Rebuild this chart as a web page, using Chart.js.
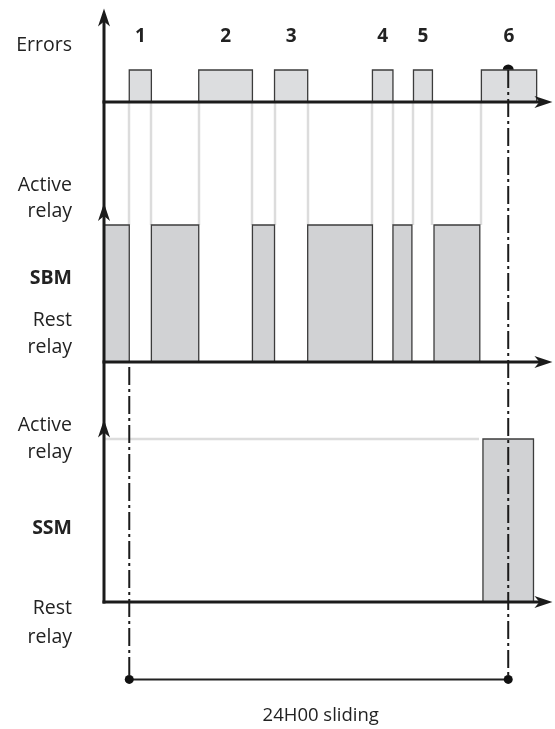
<!DOCTYPE html>
<html lang="en">
<head>
<meta charset="UTF-8">
<title>SBM / SSM relay timing</title>
<script src="https://cdn.jsdelivr.net/npm/chart.js"></script>
<style>
  html, body { margin: 0; padding: 0; background: #fff; }
  .wrap { position: relative; width: 555px; height: 729px; }
</style>
</head>
<body>
<div class="wrap"><canvas id="timing" width="555" height="729"></canvas></div>
<script>
// times in hours from the origin of the time axis
const errorLabels = ['1', '2', '3', '4', '5', '6'];
const errorStarts = [1.6, 6.0, 10.8, 17.0, 19.6, 23.9];
const errorEnds   = [3.0, 9.4, 12.9, 18.3, 20.8, 27.4];
const sbmStarts = [0, 3.0, 9.4, 12.9, 18.3, 20.9];
const sbmEnds   = [1.6, 6.0, 10.8, 17.0, 19.5, 23.8];
const ssmStarts = [24.0];
const ssmEnds   = [27.2];
const ssmThresholdEnd = 23.75;
const windowStart = 1.6;
const windowEnd = 25.6;
const windowLabel = '24H00 sliding';
const axisEnd = 28.4;

// layout (pixels)
const W = 555, H = 729;
const X0 = 104, PX_PER_HOUR = 15.79;
const lanes = {
    yE: { base: 102, high: 70, arrow: 2.92 },
    yB: { base: 362, high: 225, arrow: 1.16 },
    yS: { base: 602, high: 439, arrow: 1.12 }
};
const BRACKET_LEVEL = -0.475; // in SSM lane units

const AXIS = '#1b1b1b';
const EDGE = '#3c3c3c';
const GUIDE = '#dcdcdc';
const FONT = '"Open Sans", sans-serif';

function laneScale(l) {
    const r = l.base - l.high;
    return { type: 'linear', display: false, min: (l.base - H) / r, max: l.base / r };
}

function pulses(starts, ends) {
    const pts = [{ x: 0, y: 0 }];
    starts.forEach((s, i) => {
        pts.push({ x: s, y: 0 }, { x: s, y: 1 }, { x: ends[i], y: 1 }, { x: ends[i], y: 0 });
    });
    return pts;
}

function arrowHead(ctx, x, y, dir) {
    // dir: 'up' or 'right'
    const len = 18, half = 6, notch = 5;
    ctx.beginPath();
    if (dir === 'up') {
        ctx.moveTo(x, y);
        ctx.lineTo(x + half, y + len);
        ctx.lineTo(x, y + len - notch);
        ctx.lineTo(x - half, y + len);
    } else {
        ctx.moveTo(x, y);
        ctx.lineTo(x - len, y - half);
        ctx.lineTo(x - len + notch, y);
        ctx.lineTo(x - len, y + half);
    }
    ctx.closePath();
    ctx.fill();
}

const diagram = {
    id: 'diagram',
    beforeDatasetsDraw(chart) {
        const { ctx, scales: { x, yE, yB } } = chart;
        ctx.save();
        ctx.strokeStyle = GUIDE;
        ctx.lineWidth = 2.5;
        const edges = [];
        errorStarts.forEach((s, i) => {
            edges.push(s);
            if (errorEnds[i] <= sbmEnds[sbmEnds.length - 1]) edges.push(errorEnds[i]);
        });
        edges.forEach(t => {
            const px = Math.round(x.getPixelForValue(t));
            ctx.beginPath();
            ctx.moveTo(px, yE.getPixelForValue(0));
            ctx.lineTo(px, yB.getPixelForValue(1));
            ctx.stroke();
        });
        ctx.restore();
    },
    afterDatasetsDraw(chart) {
        const { ctx, scales } = chart;
        const x = scales.x;
        const x0 = x.getPixelForValue(0);
        const xEnd = x.getPixelForValue(axisEnd);
        ctx.save();
        ctx.strokeStyle = AXIS;
        ctx.fillStyle = AXIS;
        ctx.lineWidth = 3;
        // vertical axis
        ctx.beginPath();
        ctx.moveTo(x0, scales.yE.getPixelForValue(lanes.yE.arrow) + 6);
        ctx.lineTo(x0, scales.yS.getPixelForValue(0) + 1.5);
        ctx.stroke();
        // horizontal axes + arrows
        Object.keys(lanes).forEach(id => {
            const s = scales[id];
            const py = s.getPixelForValue(0);
            ctx.beginPath();
            ctx.moveTo(x0 - 1.5, py);
            ctx.lineTo(xEnd - 8, py);
            ctx.stroke();
            arrowHead(ctx, xEnd, py, 'right');
            arrowHead(ctx, x0, s.getPixelForValue(lanes[id].arrow), 'up');
        });
        // sliding window dash-dot lines
        ctx.lineWidth = 2;
        ctx.setLineDash([18, 4, 3, 4]);
        const yBr = scales.yS.getPixelForValue(BRACKET_LEVEL);
        const xl = x.getPixelForValue(windowStart);
        const xr = x.getPixelForValue(windowEnd);
        ctx.beginPath();
        ctx.moveTo(xl, scales.yB.getPixelForValue(0) + 5);
        ctx.lineTo(xl, yBr);
        ctx.stroke();
        ctx.beginPath();
        ctx.moveTo(xr, scales.yE.getPixelForValue(1));
        ctx.lineTo(xr, yBr);
        ctx.stroke();
        ctx.setLineDash([]);
        ctx.restore();
    },
    afterDraw(chart) {
        const { ctx, scales: { x } } = chart;
        ctx.save();
        ctx.fillStyle = '#222';
        ctx.textBaseline = 'middle';
        // pulse numbers
        ctx.textAlign = 'center';
        ctx.font = 'bold 19px ' + FONT;
        errorLabels.forEach((lab, i) => {
            ctx.fillText(lab, x.getPixelForValue((errorStarts[i] + errorEnds[i]) / 2), 37);
        });
        // lane labels
        ctx.textAlign = 'right';
        const labels = [
            ['Errors', 45, false],
            ['Active', 185, false], ['relay', 211, false],
            ['SBM', 278, true],
            ['Rest', 320, false], ['relay', 347, false],
            ['Active', 425, false], ['relay', 452, false],
            ['SSM', 528, true],
            ['Rest', 608, false], ['relay', 637, false]
        ];
        labels.forEach(([t, y, b]) => {
            ctx.font = (b ? 'bold ' : '') + '19.5px ' + FONT;
            ctx.fillText(t, 72, y);
        });
        // window label
        ctx.textAlign = 'center';
        ctx.font = '18.5px ' + FONT;
        ctx.fillText(windowLabel, (x.getPixelForValue(windowStart) + x.getPixelForValue(windowEnd)) / 2 + 2, 716);
        ctx.restore();
    }
};

const pulseStyle = {
    showLine: true,
    pointRadius: 0,
    borderColor: EDGE,
    borderWidth: 1.3,
    borderJoinStyle: 'miter',
    tension: 0,
    fill: 'origin'
};

new Chart(document.getElementById('timing'), {
    type: 'scatter',
    data: {
        datasets: [
            Object.assign({ label: 'Errors', yAxisID: 'yE', data: pulses(errorStarts, errorEnds), backgroundColor: '#dcdddf' }, pulseStyle),
            Object.assign({ label: 'SBM', yAxisID: 'yB', data: pulses(sbmStarts, sbmEnds), backgroundColor: '#d1d2d4' }, pulseStyle),
            Object.assign({ label: 'SSM', yAxisID: 'yS', data: pulses(ssmStarts, ssmEnds), backgroundColor: '#d1d2d4' }, pulseStyle),
            {
                label: 'SSM threshold', yAxisID: 'yS', showLine: true, pointRadius: 0,
                data: [{ x: 0, y: 1 }, { x: ssmThresholdEnd, y: 1 }],
                borderColor: GUIDE, borderWidth: 2.5
            },
            {
                label: 'Window', yAxisID: 'yS', showLine: true,
                data: [{ x: windowStart, y: BRACKET_LEVEL }, { x: windowEnd, y: BRACKET_LEVEL }],
                borderColor: '#222', borderWidth: 2,
                pointRadius: 4.5, pointBackgroundColor: '#111', pointBorderWidth: 0
            },
            {
                label: 'Window end', yAxisID: 'yE',
                data: [{ x: windowEnd, y: 1 }],
                pointRadius: 5.5, pointBackgroundColor: '#111', pointBorderWidth: 0
            }
        ]
    },
    options: {
        responsive: false,
        animation: false,
        layout: { padding: 0, autoPadding: false },
        plugins: { legend: { display: false }, tooltip: { enabled: false } },
        scales: {
            x: { type: 'linear', display: false, min: -X0 / PX_PER_HOUR, max: (W - X0) / PX_PER_HOUR },
            yE: laneScale(lanes.yE),
            yB: laneScale(lanes.yB),
            yS: laneScale(lanes.yS)
        }
    },
    plugins: [diagram]
});
</script>
</body>
</html>
